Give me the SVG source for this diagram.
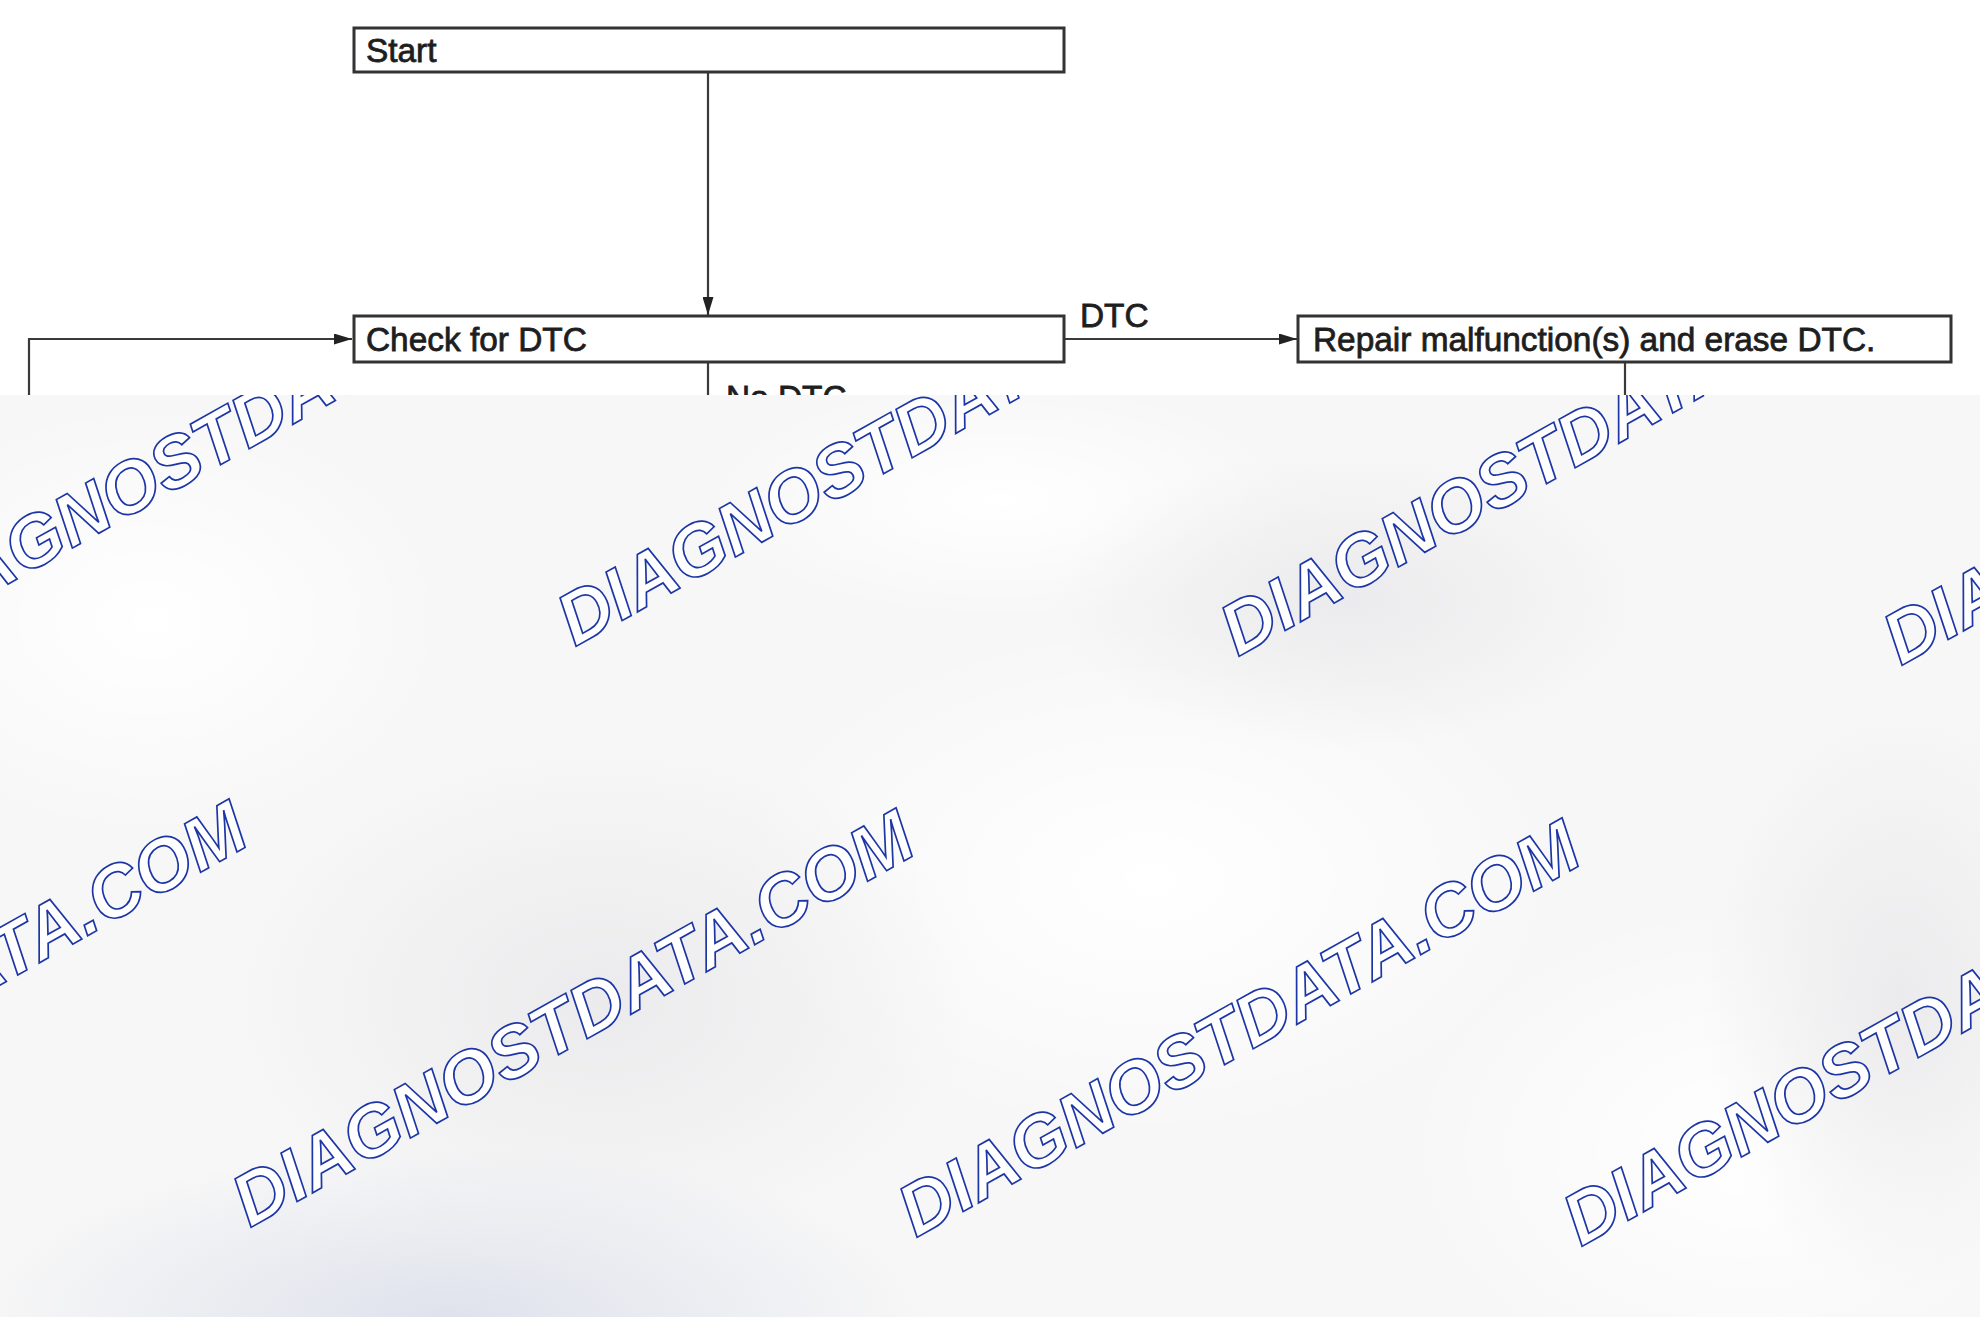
<svg xmlns="http://www.w3.org/2000/svg" width="1980" height="1317" viewBox="0 0 1980 1317">
<defs>
<style>
.box{fill:#ffffff;stroke:#333333;stroke-width:3}
.lbl{font-family:"Liberation Sans",Arial,sans-serif;font-size:33.4px;fill:#1e1e1e;stroke:#1e1e1e;stroke-width:0.8}
.ln{fill:none;stroke:#3a3a3a;stroke-width:2.2}
.wm{font-family:"Liberation Sans",Arial,sans-serif;font-size:73px;font-weight:bold;font-style:italic;fill:#ffffff;stroke:#1d36a6;stroke-width:1.7}
</style>
<marker id="arr" viewBox="0 0 18 11" refX="18" refY="5.5" markerWidth="18" markerHeight="11" markerUnits="userSpaceOnUse" orient="auto">
<path d="M0,0 L18,5.5 L0,11 Z" fill="#222222"/>
</marker>
<clipPath id="ov"><rect x="0" y="395" width="1980" height="922"/></clipPath>
<radialGradient id="g1" cx="0.5" cy="0.5" r="0.5"><stop offset="0" stop-color="#ebebed" stop-opacity="1"/><stop offset="1" stop-color="#ebebed" stop-opacity="0"/></radialGradient>
<radialGradient id="g2" cx="0.5" cy="0.5" r="0.5"><stop offset="0" stop-color="#ffffff" stop-opacity="1"/><stop offset="1" stop-color="#ffffff" stop-opacity="0"/></radialGradient>
<radialGradient id="g3" cx="0.5" cy="0.5" r="0.5"><stop offset="0" stop-color="#dfe2ec" stop-opacity="1"/><stop offset="1" stop-color="#dfe2ec" stop-opacity="0"/></radialGradient>
</defs>
<rect x="0" y="0" width="1980" height="1317" fill="#ffffff"/>

<g id="connectors">
<line class="ln" x1="708" y1="72" x2="708" y2="315" marker-end="url(#arr)"/>
<polyline class="ln" points="29,420 29,339 352,339" marker-end="url(#arr)"/>
<line class="ln" x1="1063" y1="339" x2="1297" y2="339" marker-end="url(#arr)"/>
<line class="ln" x1="708" y1="362" x2="708" y2="420"/>
<line class="ln" x1="1625" y1="362" x2="1625" y2="420"/>
<text class="lbl" x="1080" y="327" font-size="31">DTC</text>
<text class="lbl" x="726" y="409" font-size="31">No DTC</text>
</g>

<g id="node-start">
<rect class="box" x="354" y="28" width="710" height="44"/>
<text class="lbl" x="366" y="62">Start</text>
</g>
<g id="node-check">
<rect class="box" x="354" y="316" width="710" height="46"/>
<text class="lbl" x="366" y="351">Check for DTC</text>
</g>
<g id="node-repair">
<rect class="box" x="1298" y="316" width="653" height="46"/>
<text class="lbl" x="1313" y="351">Repair malfunction(s) and erase DTC.</text>
</g>

<g id="watermark-overlay" clip-path="url(#ov)">
<rect x="0" y="395" width="1980" height="922" fill="#f7f7f7"/>
<ellipse cx="150" cy="620" rx="300" ry="220" fill="url(#g2)"/>
<ellipse cx="1150" cy="880" rx="420" ry="260" fill="url(#g2)"/>
<ellipse cx="1750" cy="1150" rx="350" ry="250" fill="url(#g2)"/>
<ellipse cx="1000" cy="500" rx="300" ry="120" fill="url(#g2)"/>
<ellipse cx="600" cy="1000" rx="380" ry="260" fill="url(#g1)"/>
<ellipse cx="1350" cy="600" rx="300" ry="150" fill="url(#g1)"/>
<ellipse cx="450" cy="1317" rx="480" ry="170" fill="url(#g3)"/>
<ellipse cx="1900" cy="1000" rx="200" ry="300" fill="url(#g1)"/>
<g>
<text class="wm" transform="translate(-88,638) rotate(-29.3)">DIAGNOSTDATA.COM</text>
<text class="wm" transform="translate(575,647) rotate(-29.3)">DIAGNOSTDATA.COM</text>
<text class="wm" transform="translate(1238,657) rotate(-29.3)">DIAGNOSTDATA.COM</text>
<text class="wm" transform="translate(1901,666) rotate(-29.3)">DIAGNOSTDATA.COM</text>
<text class="wm" transform="translate(-417,1219) rotate(-29.3)">DIAGNOSTDATA.COM</text>
<text class="wm" transform="translate(250,1228) rotate(-29.3)">DIAGNOSTDATA.COM</text>
<text class="wm" transform="translate(916,1238) rotate(-29.3)">DIAGNOSTDATA.COM</text>
<text class="wm" transform="translate(1581,1247) rotate(-29.3)">DIAGNOSTDATA.COM</text>
</g>
</g>
</svg>
